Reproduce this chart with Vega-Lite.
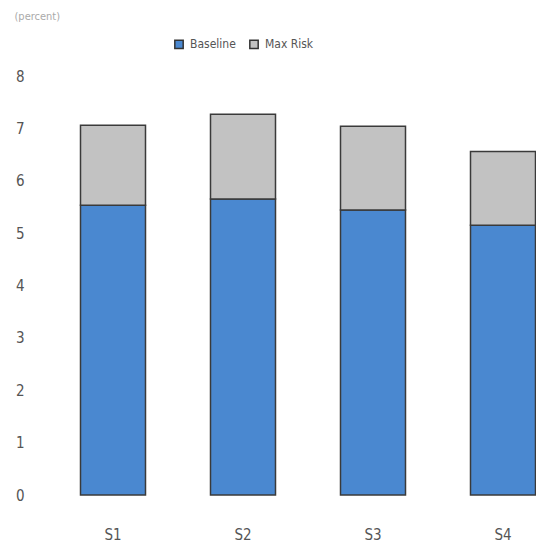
{
  "$schema": "https://vega.github.io/schema/vega-lite/v6.json",
  "autosize": {"type": "none"},
  "padding": {"left": 48, "top": 76, "right": 0, "bottom": 59},
  "width": 488,
  "height": 419,
  "background": "white",
  "config": {
    "view": {"stroke": null},
    "font": "DejaVu Sans Condensed, Liberation Sans Narrow, sans-serif"
  },
  "data": {
    "values": [
      {"scenario": "S1", "series": "Baseline", "value": 5.53, "ord": 1},
      {"scenario": "S1", "series": "Max Risk", "value": 1.53, "ord": 2},
      {"scenario": "S2", "series": "Baseline", "value": 5.65, "ord": 1},
      {"scenario": "S2", "series": "Max Risk", "value": 1.62, "ord": 2},
      {"scenario": "S3", "series": "Baseline", "value": 5.44, "ord": 1},
      {"scenario": "S3", "series": "Max Risk", "value": 1.6, "ord": 2},
      {"scenario": "S4", "series": "Baseline", "value": 5.15, "ord": 1},
      {"scenario": "S4", "series": "Max Risk", "value": 1.41, "ord": 2}
    ]
  },
  "mark": {"type": "bar", "stroke": "#3a3a3a", "strokeWidth": 1.5, "clip": false},
  "encoding": {
    "x": {
      "field": "scenario",
      "type": "nominal",
      "scale": {"range": [0, 520], "paddingInner": 0.5, "paddingOuter": 0.25},
      "axis": {
        "title": null,
        "labelAngle": 0,
        "domain": false,
        "ticks": false,
        "labelPadding": 32,
        "labelFontSize": 15,
        "labelColor": "#555555"
      }
    },
    "y": {
      "field": "value",
      "type": "quantitative",
      "stack": "zero",
      "scale": {"domain": [0, 8]},
      "axis": {
        "values": [0, 1, 2, 3, 4, 5, 6, 7, 8],
        "grid": false,
        "domain": false,
        "ticks": false,
        "labelPadding": 24,
        "labelFontSize": 15,
        "labelColor": "#555555",
        "title": "(percent)",
        "titleAngle": 0,
        "titleAlign": "left",
        "titleBaseline": "middle",
        "titleX": -34,
        "titleY": -60,
        "titleFontSize": 11,
        "titleFontWeight": "normal",
        "titleColor": "#aaaaaa"
      }
    },
    "color": {
      "field": "series",
      "type": "nominal",
      "scale": {"domain": ["Baseline", "Max Risk"], "range": ["#4a88d0", "#c2c2c2"]},
      "legend": {
        "title": null,
        "orient": "none",
        "legendX": 125,
        "legendY": -38,
        "direction": "horizontal",
        "symbolType": "square",
        "symbolSize": 70,
        "symbolStrokeColor": "#333333",
        "symbolStrokeWidth": 1.5,
        "labelFontSize": 12,
        "labelColor": "#555555",
        "columnPadding": 10,
        "labelOffset": 5
      }
    },
    "order": {"field": "ord", "type": "quantitative"}
  }
}
